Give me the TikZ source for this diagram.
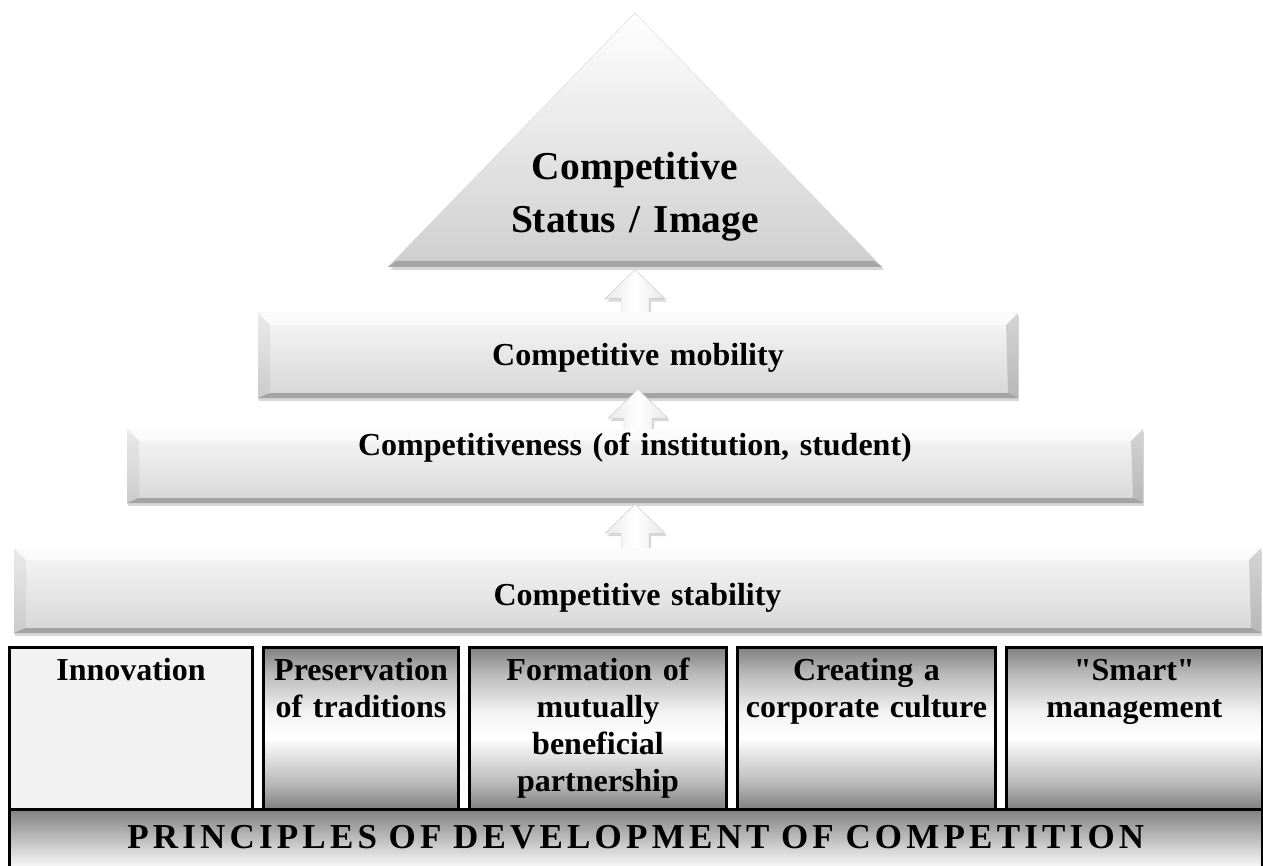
\documentclass[tikz,border=0pt]{standalone}
\usepackage{fontspec}
\setmainfont{Liberation Serif}
\usepackage{tikz}
\usetikzlibrary{positioning,shadows,calc}
\definecolor{steeldark}{RGB}{128,128,128}
\definecolor{steelmid}{RGB}{185,185,185}
\newcommand\titlefont{\bfseries\fontsize{39.5}{53}\selectfont}
\newcommand\tierfont{\bfseries\fontsize{32}{37}\selectfont}
\newcommand\princfont{\bfseries\fontsize{35}{40}\selectfont\addfontfeature{LetterSpace=12}}
\pgfdeclareverticalshading{steel}{100bp}{color(0bp)=(steeldark); color(25bp)=(steeldark); color(33bp)=(steelmid); color(47bp)=(white); color(55bp)=(white!95!black); color(67bp)=(steelmid); color(75bp)=(steeldark); color(100bp)=(steeldark)}
\tikzstyle{tier} = [rectangle, inner sep=0pt, align=center, font=\tierfont,
  top color=gray!6, bottom color=gray!32,
  drop shadow={opacity=.3, shadow xshift=1pt, shadow yshift=-3pt},
  path picture={
    \coordinate (nw) at (path picture bounding box.north west);
    \coordinate (ne) at (path picture bounding box.north east);
    \coordinate (sw) at (path picture bounding box.south west);
    \coordinate (se) at (path picture bounding box.south east);
    \fill[white, opacity=.6] (nw) -- (ne) -- ([xshift=-12pt,yshift=-12pt]ne) -- ([xshift=12pt,yshift=-12pt]nw) -- cycle;
    \fill[black, opacity=.05] (nw) -- ([xshift=12pt,yshift=-12pt]nw) -- ([xshift=12pt,yshift=5pt]sw) -- (sw) -- cycle;
    \fill[black, opacity=.14] (ne) -- (se) -- ([xshift=-10pt,yshift=5pt]se) -- ([xshift=-12pt,yshift=-12pt]ne) -- cycle;
    \fill[black, opacity=.24] (sw) -- (se) -- ([xshift=-10pt,yshift=5pt]se) -- ([xshift=12pt,yshift=5pt]sw) -- cycle;
  }]
\tikzstyle{cellbox} = [rectangle, draw=black, line width=3pt, inner sep=0pt, align=center,
  font=\tierfont, text height=32.5pt, text depth=129pt]
\tikzstyle{cell} = [cellbox, shading=steel]
\tikzstyle{uparrow} = [draw=gray!45, left color=gray!18, right color=gray!18, middle color=white,
  drop shadow={opacity=.3, shadow xshift=2pt, shadow yshift=-3pt}]
% block arrow hanging below a level: #1 level above, #2 shift of the tip
\newcommand\liftarrow[2]{%
  \path[uparrow] let \p1=([yshift=#2]#1.south) in
    (\x1-14pt,\y1-62pt) -- (\x1-14pt,\y1-29pt) -- (\x1-30pt,\y1-29pt) -- (\x1,\y1)
    -- (\x1+30pt,\y1-29pt) -- (\x1+14pt,\y1-29pt) -- (\x1+14pt,\y1-62pt) -- cycle;}

\begin{document}
\begin{tikzpicture}[x=1pt, y=-1pt]
\path[use as bounding box, fill=white] (0,0) rectangle (1263,866);

% Top of the pyramid
\path[top color=white, bottom color=gray!38, draw=gray!30,
  drop shadow={opacity=.3, shadow yshift=-3pt}] (635,13) -- (882,267) -- (388,267) -- cycle;
\fill[black, opacity=.2] (388,267) -- (882,267) -- (874,261) -- (396,261) -- cycle;
\node[inner sep=0pt] (tri) at (635,267) {};
\node[font=\titlefont, text width=340pt, align=center, anchor=base] (status) at (635,180)
  {Competitive\\Status / Image};

% Levels, each one over the arrow below the level above
\liftarrow{tri}{-2pt}
\node[tier, text width=760pt, text height=52pt, text depth=33pt] (mob) at (638,355.5)
  {Competitive mobility};
\liftarrow{mob}{9pt}
\node[tier, text width=1016pt, text height=26pt, text depth=48pt] (comp) at (635,466)
  {Competitiveness (of institution, student)};
\liftarrow{comp}{-1pt}
\node[tier, text width=1247pt, text height=57pt, text depth=28pt] (stab) at (637.5,590.5)
  {Competitive stability};

% Principles
\node[cellbox, fill=gray!10, text width=243pt, anchor=north west] (inno) at (8,646) {Innovation};
\node[cell, text width=195pt, right=8pt of inno] (pres) {Preservation\\of traditions};
\node[cell, text width=257pt, right=8pt of pres] (form) {Formation of\\mutually\\beneficial\\partnership};
\node[cell, text width=258pt, right=8pt of form] (corp) {Creating a\\corporate culture};
\node[cell, text width=255.5pt, right=8pt of corp] (smart) {\textquotedbl Smart\textquotedbl\\management};

\node[rectangle, draw=black, line width=3pt, inner sep=0pt, align=center, font=\princfont,
  top color=gray, bottom color=white, text width=1252.5pt, text height=39pt, text depth=22pt,
  anchor=north west] (princ) at ([yshift=3pt]inno.south west)
  {PRINCIPLES OF DEVELOPMENT OF COMPETITION};
\end{tikzpicture}
\end{document}
